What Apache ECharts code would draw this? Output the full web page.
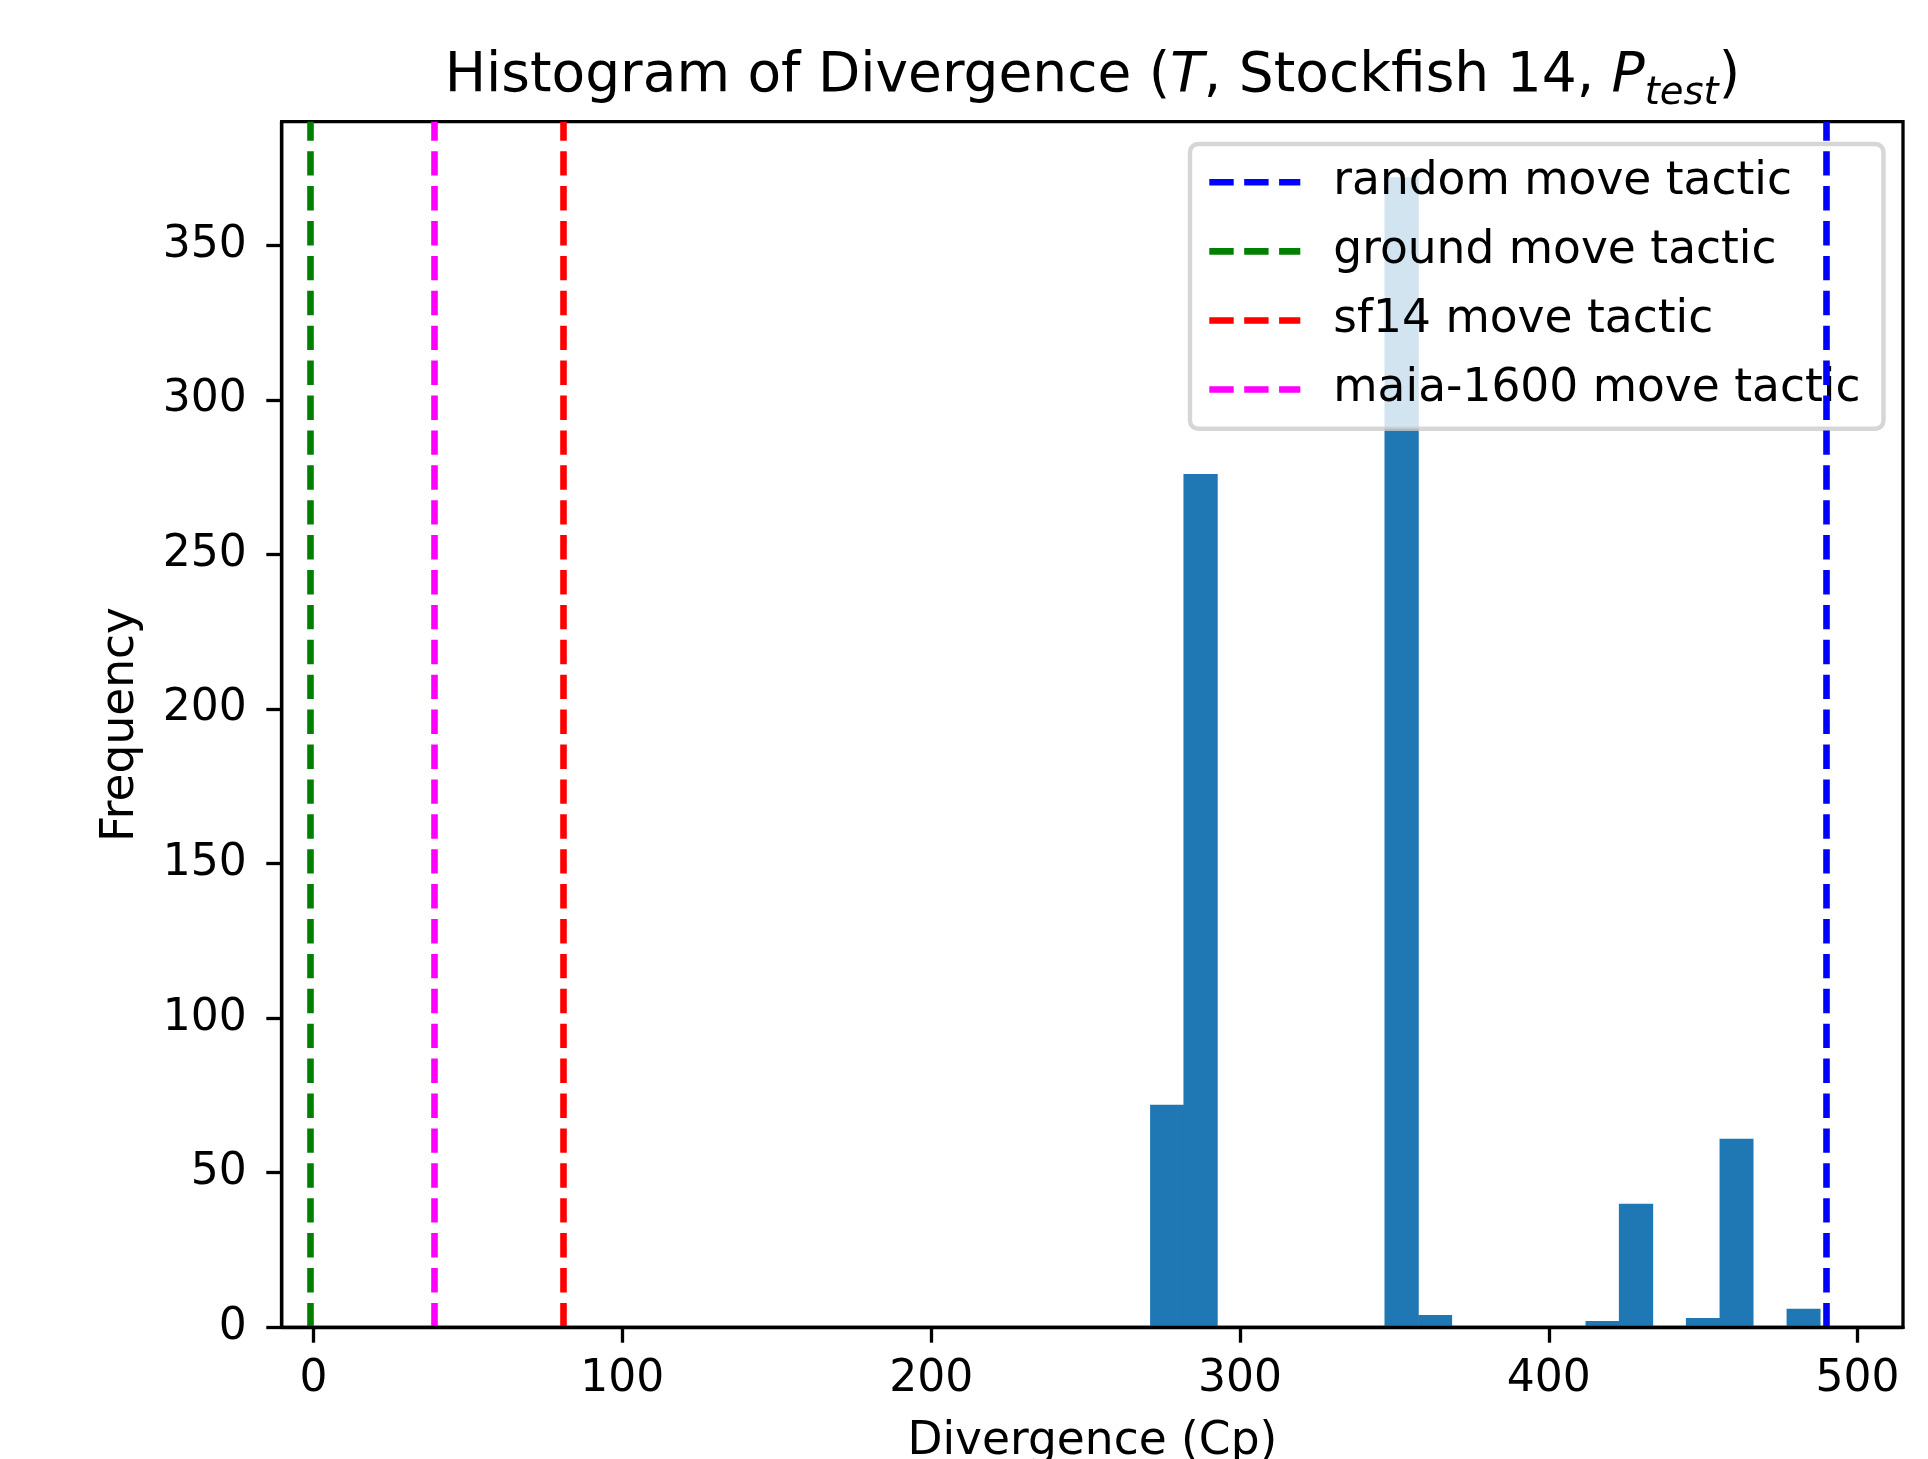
<!DOCTYPE html>
<html>
<head>
<meta charset="utf-8">
<script src="https://cdn.jsdelivr.net/npm/echarts@6/dist/echarts.min.js"></script>
<style>
html,body{margin:0;padding:0;background:#ffffff;}
#chart{width:1928px;height:1459px;}
</style>
</head>
<body>
<div id="chart"></div>
<script>
// ---- data ----
const binEdges = [270.9, 281.7, 292.6, 303.4, 314.3, 325.1, 336.0, 346.8, 357.7, 368.5, 379.4,
                  390.2, 401.0, 411.9, 422.7, 433.6, 444.4, 455.3, 466.1, 477.0, 487.8];
const counts = [72, 276, 0, 0, 0, 0, 0, 372, 4, 0, 0, 0, 0, 2, 40, 0, 3, 61, 0, 6];
const lineNames = ['random move tactic', 'ground move tactic', 'sf14 move tactic', 'maia-1600 move tactic'];
const lineValues = [490, -1, 81, 39];
const lineColors = ['#0000ff', '#008000', '#ff0000', '#ff00ff'];
const xTicks = [0, 100, 200, 300, 400, 500];
const yTicks = [0, 50, 100, 150, 200, 250, 300, 350];
const xRange = [-10.3, 514.7];
const yRange = [0, 390];

// ---- build ----
const FONT = 'DejaVu Sans';
const histData = counts.map((c, i) => [binEdges[i], binEdges[i + 1], c]);
const dash = [24.4, 10.5];

const lineSeries = lineNames.map((n, i) => ({
  type: 'line',
  name: n,
  data: [],
  symbol: 'none',
  z: 3,
  lineStyle: { color: lineColors[i], width: 6.6, type: dash },
  itemStyle: { color: lineColors[i] },
  markLine: {
    silent: true,
    symbol: ['none', 'none'],
    label: { show: false },
    emphasis: { disabled: true },
    animation: false,
    lineStyle: { color: lineColors[i], width: 6.6, type: dash },
    data: [{ xAxis: lineValues[i] }]
  }
}));

const chart = echarts.init(document.getElementById('chart'), null, { renderer: 'canvas' });
chart.setOption({
  animation: false,
  backgroundColor: '#ffffff',
  title: {
    text: '{n|Histogram of Divergence (}{i|T}{n|, Stockfish 14, }{i|P}{s|test}{n|)}',
    left: 1092.4,
    top: 49.5,
    padding: 0,
    textAlign: 'center',
    textStyle: {
      fontWeight: 'normal',
      rich: {
        n: { fontFamily: FONT, fontSize: 55, lineHeight: 55, fontWeight: 'normal', color: '#000' },
        i: { fontFamily: FONT, fontSize: 55, lineHeight: 55, fontWeight: 'normal', fontStyle: 'italic', color: '#000' },
        s: { fontFamily: FONT, fontSize: 38.5, lineHeight: 38.5, fontWeight: 'normal', fontStyle: 'italic', color: '#000',
             verticalAlign: 'top', padding: [25, 0, 0, 0] }
      }
    }
  },
  grid: {
    left: 281.7, top: 121.7, width: 1621.3, height: 1205.6,
    show: true, borderColor: '#000', borderWidth: 3.3,
    backgroundColor: 'transparent',
    outerBoundsMode: 'none',
    containLabel: false
  },
  legend: {
    orient: 'vertical',
    left: 1190, top: 144,
    data: lineNames,
    itemWidth: 91, itemHeight: 20, itemGap: 23.1,
    padding: [15.25, 23, 16.15, 16],
    backgroundColor: 'rgba(255,255,255,0.8)',
    borderColor: 'rgba(204,204,204,0.8)', borderWidth: 4.4, borderRadius: 8,
    selectedMode: false,
    itemStyle: { opacity: 0 },
    lineStyle: { width: 6.6, type: dash },
    textStyle: { fontFamily: FONT, fontSize: 45.5, lineHeight: 45.5, color: '#000', padding: [0, 0, 0, 28] }
  },
  xAxis: {
    type: 'value',
    min: xRange[0], max: xRange[1],
    z: 5,
    axisLine: { show: true, onZero: false, lineStyle: { color: '#000', width: 3.3 } },
    axisTick: { show: true, customValues: xTicks, length: 15.4, lineStyle: { color: '#000', width: 3.3 } },
    axisLabel: { customValues: xTicks, margin: 30, fontFamily: FONT, fontSize: 44, color: '#000' },
    splitLine: { show: false },
    name: 'Divergence (Cp)',
    nameLocation: 'middle',
    nameGap: 92,
    nameTextStyle: { fontFamily: FONT, fontSize: 45.5, color: '#000' }
  },
  yAxis: {
    type: 'value',
    min: yRange[0], max: yRange[1],
    z: 5,
    axisLine: { show: true, onZero: false, lineStyle: { color: '#000', width: 3.3 } },
    axisTick: { show: true, customValues: yTicks, length: 15.4, lineStyle: { color: '#000', width: 3.3 } },
    axisLabel: { customValues: yTicks, margin: 35, fontFamily: FONT, fontSize: 44, color: '#000' },
    splitLine: { show: false },
    name: 'Frequency',
    nameLocation: 'middle',
    nameRotate: 90,
    nameGap: 138,
    nameTextStyle: { fontFamily: FONT, fontSize: 45.5, color: '#000' }
  },
  series: [
    {
      type: 'custom',
      name: 'hist',
      z: 2,
      silent: true,
      encode: { x: [0, 1], y: 2 },
      data: histData,
      renderItem: function (params, api) {
        const x0 = api.value(0), x1 = api.value(1), c = api.value(2);
        if (!c) return null;
        const tl = api.coord([x0, c]);
        const br = api.coord([x1, 0]);
        return {
          type: 'rect',
          shape: { x: tl[0], y: tl[1], width: br[0] - tl[0] + 0.6, height: br[1] - tl[1] },
          style: { fill: '#1f77b4' }
        };
      }
    }
  ].concat(lineSeries)
});
</script>
</body>
</html>
